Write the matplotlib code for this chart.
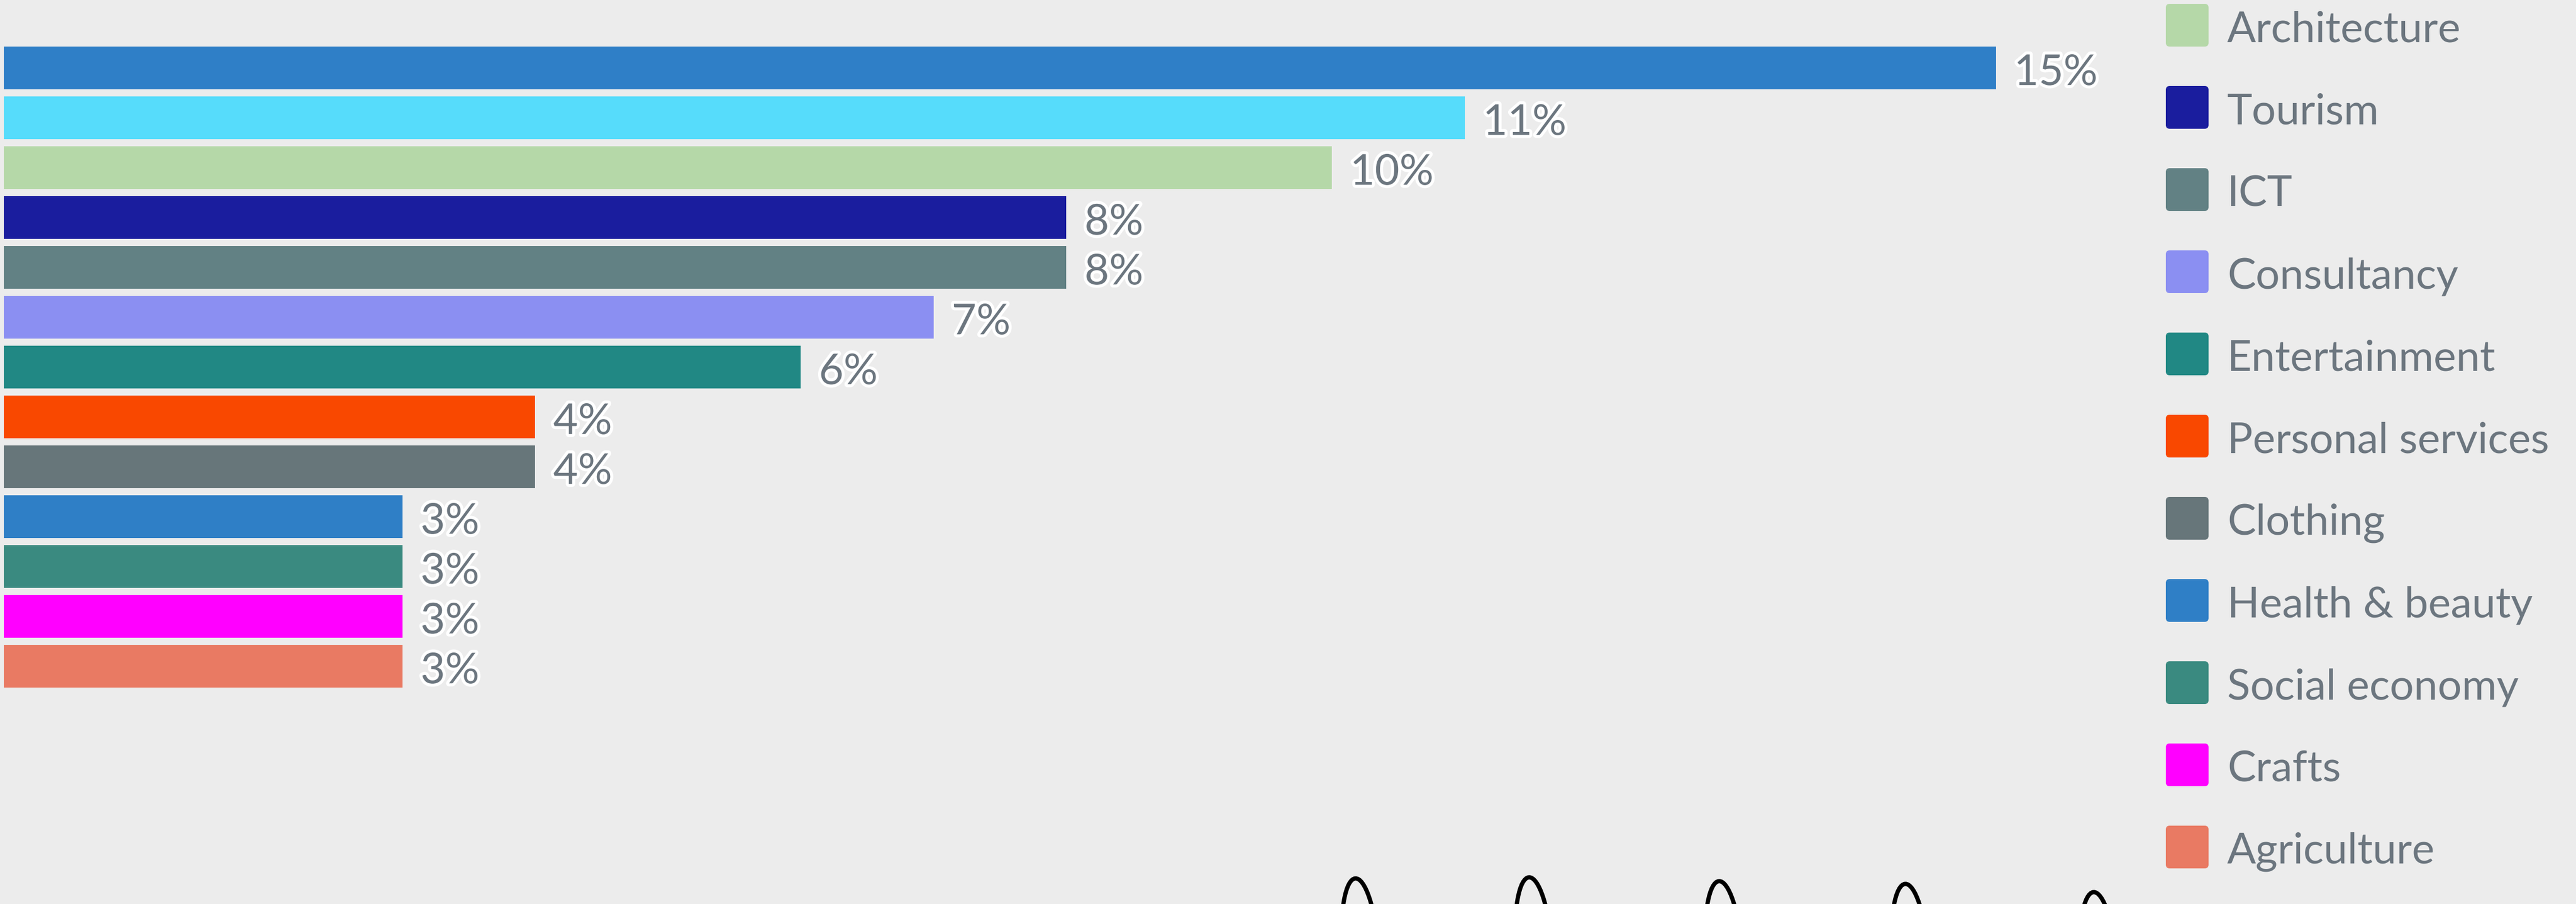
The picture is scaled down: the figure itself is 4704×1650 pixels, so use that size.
import matplotlib
matplotlib.use("Agg")
import matplotlib.pyplot as plt
from matplotlib.patches import FancyBboxPatch, Ellipse
import matplotlib.patheffects as pe

# ---- data ----
categories = ["Sector A", "Sector B", "Architecture", "Tourism", "ICT", "Consultancy",
              "Entertainment", "Personal services", "Clothing", "Health & beauty",
              "Social economy", "Crafts", "Agriculture"]
values = [15, 11, 10, 8, 8, 7, 6, 4, 4, 3, 3, 3, 3]
colors = ["#2f7fc7", "#56dcfb", "#b5d8a8", "#1a1d9e", "#628184", "#8b8ff2",
          "#218884", "#f94800", "#67767a", "#2f7fc6", "#3a8a80", "#ff00ff", "#e97a63"]
legend_names = categories[2:]
legend_colors = colors[2:]

W, H = 4704, 1650
DPI = 200
BG = "#ececec"
TXT = "#6c767f"

plt.rcParams['font.family'] = ['Lato', 'DejaVu Sans']

fig = plt.figure(figsize=(W / DPI, H / DPI), dpi=DPI, facecolor=BG)

# bar axes in pixel geometry
left_px = 7
px_per_unit = 242.5
xmax = 16
pitch = 91.0
first_center = 124
n = len(values)
top_px = first_center - pitch / 2
bot_px = first_center + pitch * (n - 1) + pitch / 2
ax = fig.add_axes([left_px / W, 1 - bot_px / H, px_per_unit * xmax / W, (bot_px - top_px) / H])
ax.set_facecolor("none")
ypos = list(range(n))
ax.barh(ypos, values, height=0.86, color=colors, linewidth=0)
ax.set_xlim(0, xmax)
ax.set_ylim(n - 0.5, -0.5)
ax.axis("off")

for i, v in enumerate(values):
    ax.annotate(f"{v}%", xy=(v, i), xytext=(12, -3.5), textcoords="offset points",
                ha="left", va="center", fontsize=28, color=TXT,
                path_effects=[pe.withStroke(linewidth=4, foreground="white")],
                annotation_clip=False)

# overlay axes in pixel coords for legend & decorations
ov = fig.add_axes([0, 0, 1, 1])
ov.set_xlim(0, W)
ov.set_ylim(H, 0)
ov.axis("off")
ov.set_facecolor("none")

leg_x = 3955
leg_size = 78
leg_first = 46
leg_pitch = 150
for k, (name, col) in enumerate(zip(legend_names, legend_colors)):
    cy = leg_first + k * leg_pitch
    ov.add_patch(FancyBboxPatch((leg_x, cy - leg_size / 2), leg_size, leg_size,
                                boxstyle="round,pad=0,rounding_size=7",
                                facecolor=col, edgecolor="none"))
    ov.text(leg_x + 112, cy + 9, name, ha="left", va="center", fontsize=28, color=TXT)

# decorative loops at the bottom
loop_x = [2484, 2801, 3148, 3488, 3832]
loop_top = [1603, 1601, 1608, 1613, 1628]
for x, t in zip(loop_x, loop_top):
    h = 260
    ov.add_patch(Ellipse((x, t + h / 2), 66, h, angle=-4, fill=False,
                         edgecolor="black", linewidth=2.8))

fig.savefig("out.png", dpi=DPI, facecolor=BG)
